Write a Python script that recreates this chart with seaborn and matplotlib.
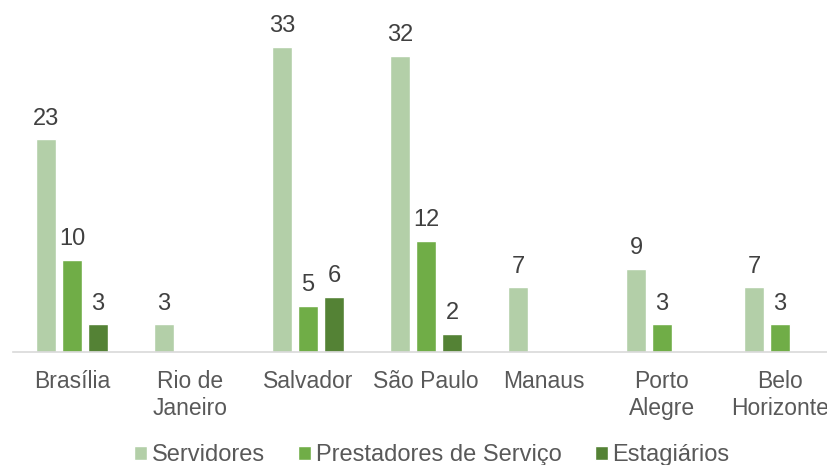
import matplotlib
matplotlib.use("Agg")
import matplotlib.pyplot as plt
import seaborn as sns
import pandas as pd
import numpy as np

categories = ["Brasília", "Rio de Janeiro", "Salvador", "São Paulo", "Manaus", "Porto Alegre", "Belo Horizonte"]
tick_labels = ["Brasília", "Rio de\nJaneiro", "Salvador", "São Paulo", "Manaus", "Porto\nAlegre", "Belo\nHorizonte"]
series = ["Servidores", "Prestadores de Serviço", "Estagiários"]
servidores = [23, 3, 33, 32, 7, 9, 7]
prestadores = [10, np.nan, 5, 12, np.nan, 3, 3]
estagiarios = [3, np.nan, 6, 2, np.nan, np.nan, np.nan]
colors = ["#B3CFA8", "#70AD47", "#548235"]

rows = []
for name, vals in zip(series, [servidores, prestadores, estagiarios]):
    for c, v in zip(categories, vals):
        rows.append({"Cidade": c, "Grupo": name, "Valor": v})
df = pd.DataFrame(rows).dropna()

sns.set_theme(style="white")
plt.rcParams["font.family"] = ["Liberation Sans", "DejaVu Sans"]

fig = plt.figure(figsize=(8.28, 4.65), dpi=100)
W, H = 828, 465
left, right, bottom, top = 13, 839, 352, 10
ax = fig.add_axes([left / W, (H - bottom) / H, (right - left) / W, (bottom - top) / H])

sns.barplot(data=df, x="Cidade", y="Valor", hue="Grupo", order=categories,
            hue_order=series, palette=colors, width=0.66, gap=0.23,
            saturation=1, ax=ax, legend=True)

ax.set_ylim(0, 37)
ax.set_xlim(-0.5, len(categories) - 0.5)
for cont in ax.containers:
    ax.bar_label(cont, padding=7, fontsize=17, color="#404040")

ax.set_xticks(range(len(categories)))
ax.set_xticklabels(tick_labels, fontsize=16.5, color="#595959", linespacing=1.2)
ax.tick_params(axis="x", length=0, pad=13)
ax.set_yticks([])
ax.set_xlabel("")
ax.set_ylabel("")
for s in ["top", "right", "left"]:
    ax.spines[s].set_visible(False)
ax.spines["bottom"].set_color("#D9D9D9")
ax.spines["bottom"].set_linewidth(1.2)

handles, labels = ax.get_legend_handles_labels()
ax.legend(handles, labels, loc="center",
          bbox_to_anchor=(0.5 + 6 / (right - left), -(455 - bottom) / (bottom - top)),
          ncol=3, frameon=False, fontsize=17, handlelength=0.55, handleheight=0.55,
          handletextpad=0.2, columnspacing=1.4, labelcolor="#595959",
          borderaxespad=0)

fig.savefig("out.png", dpi=100)
